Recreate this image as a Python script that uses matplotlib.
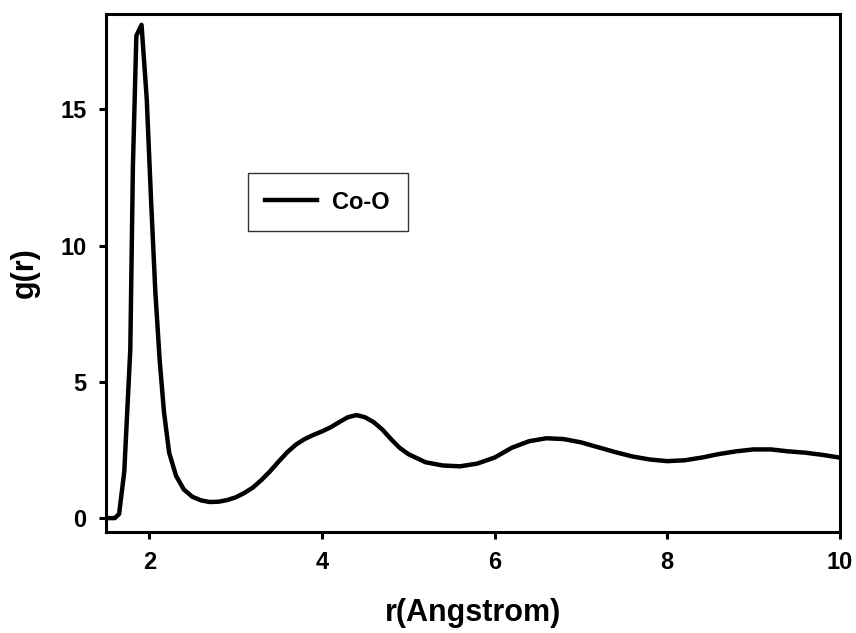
import matplotlib
matplotlib.use("Agg")
import matplotlib.pyplot as plt

# Radial distribution function Co-O
r = [1.5, 1.55, 1.6, 1.65, 1.71, 1.78, 1.81, 1.85, 1.91, 1.97,
     2.02, 2.07, 2.12, 2.17, 2.23, 2.31, 2.4, 2.5, 2.6, 2.7,
     2.8, 2.9, 3.0, 3.1, 3.2, 3.3, 3.4, 3.5, 3.6, 3.7,
     3.8, 3.9, 4.0, 4.1, 4.2, 4.3, 4.4, 4.5, 4.6, 4.7,
     4.8, 4.9, 5.0, 5.2, 5.4, 5.6, 5.8, 6.0, 6.2, 6.4,
     6.6, 6.8, 7.0, 7.2, 7.4, 7.6, 7.8, 8.0, 8.2, 8.4,
     8.6, 8.8, 9.0, 9.2, 9.4, 9.6, 9.8, 10.0]
g = [0.0, 0.0, 0.0, 0.15, 1.7, 6.2, 12.9, 17.7, 18.1, 15.4,
     11.7, 8.3, 5.8, 3.9, 2.4, 1.55, 1.05, 0.78, 0.65, 0.59,
     0.6, 0.66, 0.76, 0.92, 1.12, 1.4, 1.72, 2.08, 2.42, 2.7,
     2.9, 3.05, 3.18, 3.33, 3.52, 3.7, 3.78, 3.7, 3.52, 3.25,
     2.9, 2.58, 2.35, 2.05, 1.93, 1.9, 2.0, 2.22, 2.58, 2.82,
     2.93, 2.9, 2.78, 2.6, 2.42, 2.26, 2.15, 2.09, 2.12, 2.22,
     2.35, 2.45, 2.52, 2.52, 2.45, 2.4, 2.32, 2.22]

xticks = [2, 4, 6, 8, 10]
yticks = [0, 5, 10, 15]

plt.rcParams['font.family'] = ['Liberation Sans', 'DejaVu Sans']
plt.rcParams['font.weight'] = 'bold'

fig = plt.figure(figsize=(8.56, 6.33), dpi=100)
ax = fig.add_axes([0.124, 0.160, 0.857, 0.818])

ax.plot(r, g, color='black', linewidth=3.2, label='Co-O')

ax.set_xlim(1.5, 10)
ax.set_ylim(-0.5, 18.5)
ax.set_xticks(xticks)
ax.set_yticks(yticks)
ax.tick_params(direction='out', length=5, width=2.2, labelsize=17, pad=9)
for lab in ax.get_xticklabels() + ax.get_yticklabels():
    lab.set_fontweight('bold')
for sp in ax.spines.values():
    sp.set_linewidth(2.2)

ax.set_xlabel('r(Angstrom)', fontsize=22, fontweight='bold', labelpad=17)
ax.set_ylabel('g(r)', fontsize=22, fontweight='bold', labelpad=15)

leg = ax.legend(loc='upper left', bbox_to_anchor=(0.193, 0.693), frameon=True,
                fancybox=False, edgecolor='black', fontsize=17,
                handlelength=2.2, handletextpad=0.64, borderpad=0.75,
                borderaxespad=0)
leg.get_frame().set_linewidth(1.0)
for t in leg.get_texts():
    t.set_fontweight('bold')

fig.savefig('out.png', dpi=100)
